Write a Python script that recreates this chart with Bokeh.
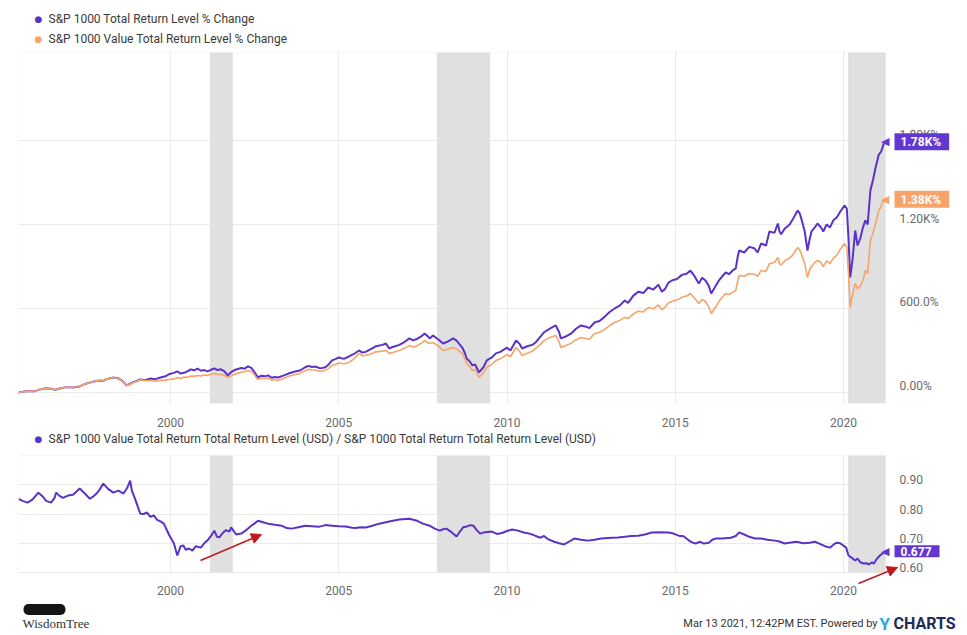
from bokeh.plotting import figure
from bokeh.layouts import column
from bokeh.models import (Range1d, LinearAxis, FixedTicker, BoxAnnotation, Label,
                          Arrow, NormalHead, NumeralTickFormatter, Grid)
from bokeh.embed import file_html
from bokeh.resources import INLINE

# ---------------- data ----------------
years_total = [1995.48, 1995.65, 1995.8, 1995.95, 1996.1, 1996.3, 1996.45, 1996.55, 1996.7, 1996.9,
               1997.1, 1997.3, 1997.45, 1997.6, 1997.75, 1997.9, 1998.0, 1998.1, 1998.3, 1998.45,
               1998.55, 1998.7, 1998.8, 1998.9, 1999.0, 1999.1, 1999.25, 1999.4, 1999.55, 1999.7,
               1999.85, 1999.95, 2000.1, 2000.2, 2000.3, 2000.4, 2000.5, 2000.6, 2000.7, 2000.8,
               2000.9, 2001.0, 2001.1, 2001.2, 2001.3, 2001.4, 2001.5, 2001.6, 2001.7, 2001.8,
               2001.9, 2002.0, 2002.1, 2002.2, 2002.3, 2002.4, 2002.45, 2002.55, 2002.6, 2002.7,
               2002.8, 2002.9, 2003.0, 2003.1, 2003.2, 2003.35, 2003.5, 2003.7, 2003.85, 2004.0,
               2004.1, 2004.2, 2004.3, 2004.45, 2004.6, 2004.7, 2004.8, 2004.9, 2005.0, 2005.15,
               2005.3, 2005.45, 2005.6, 2005.7, 2005.8, 2005.95, 2006.1, 2006.3, 2006.4, 2006.5,
               2006.6, 2006.8, 2006.95, 2007.1, 2007.2, 2007.3, 2007.45, 2007.55, 2007.65, 2007.7,
               2007.8, 2007.95, 2008.1, 2008.25, 2008.4, 2008.5, 2008.67, 2008.75, 2008.8, 2008.9,
               2008.97, 2009.05, 2009.17, 2009.3, 2009.4, 2009.55, 2009.67, 2009.8, 2010.0, 2010.1,
               2010.27, 2010.38, 2010.45, 2010.6, 2010.75, 2010.85, 2011.0, 2011.1, 2011.3, 2011.45,
               2011.55, 2011.6, 2011.75, 2011.9, 2012.05, 2012.2, 2012.35, 2012.45, 2012.6, 2012.75,
               2012.9, 2013.05, 2013.2, 2013.35, 2013.5, 2013.6, 2013.75, 2013.9, 2014.05, 2014.2,
               2014.35, 2014.5, 2014.6, 2014.7, 2014.8, 2014.9, 2015.05, 2015.2, 2015.35, 2015.45,
               2015.55, 2015.7, 2015.8, 2015.9, 2016.0, 2016.07, 2016.2, 2016.3, 2016.4, 2016.5,
               2016.6, 2016.7, 2016.8, 2016.85, 2016.9, 2017.05, 2017.2, 2017.35, 2017.45, 2017.55,
               2017.7, 2017.8, 2017.95, 2018.05, 2018.1, 2018.15, 2018.25, 2018.4, 2018.5, 2018.64,
               2018.7, 2018.75, 2018.85, 2018.93, 2019.0, 2019.05, 2019.15, 2019.23, 2019.33, 2019.4,
               2019.5, 2019.6, 2019.7, 2019.8, 2019.9, 2020.03, 2020.1, 2020.15, 2020.2, 2020.27,
               2020.35, 2020.42, 2020.5, 2020.58, 2020.65, 2020.72, 2020.8, 2020.88, 2020.95, 2021.05,
               2021.12, 2021.2]
sp1000_total_pct = [0, 6, 10, 8, 20, 30, 27, 18, 28, 38,
                    35, 43, 60, 70, 80, 86, 82, 95, 107, 100,
                    85, 50, 62, 75, 82, 93, 88, 100, 95, 107,
                    115, 130, 140, 150, 135, 140, 150, 165, 158, 171,
                    155, 160, 150, 162, 171, 160, 165, 150, 121, 145,
                    160, 168, 175, 170, 186, 175, 160, 125, 107, 120,
                    115, 122, 105, 110, 107, 120, 135, 150, 157, 180,
                    190, 182, 185, 172, 180, 200, 229, 238, 250, 240,
                    257, 275, 300, 285, 290, 310, 330, 340, 350, 314,
                    325, 340, 360, 386, 372, 380, 400, 421, 400, 386,
                    407, 380, 350, 365, 386, 370, 321, 280, 243, 220,
                    193, 200, 143, 180, 229, 250, 279, 290, 320, 300,
                    371, 345, 314, 330, 340, 357, 400, 430, 460, 479,
                    430, 386, 400, 420, 455, 479, 470, 460, 500, 510,
                    540, 575, 600, 620, 657, 640, 690, 720, 710, 750,
                    735, 770, 720, 740, 785, 800, 810, 840, 850, 871,
                    840, 779, 820, 800, 760, 707, 760, 800, 830, 857,
                    845, 870, 886, 960, 1014, 1000, 1040, 1030, 1000, 1064,
                    1050, 1150, 1140, 1207, 1150, 1130, 1170, 1200, 1240, 1300,
                    1280, 1240, 1150, 1014, 1100, 1150, 1180, 1207, 1180, 1150,
                    1200, 1179, 1230, 1250, 1290, 1336, 1314, 1100, 821, 950,
                    1157, 1050, 1100, 1180, 1229, 1200, 1443, 1520, 1600, 1700,
                    1720, 1780]
sp1000_value_pct = [0, 6, 10, 8, 20, 30, 27, 18, 28, 38,
                    35, 43, 60, 70, 80, 86, 82, 95, 107, 98,
                    82, 50, 60, 72, 80, 90, 84, 85, 80, 86,
                    88, 92, 95, 107, 100, 110, 108, 118, 115, 121,
                    118, 125, 122, 130, 136, 128, 130, 122, 107, 120,
                    130, 138, 145, 148, 157, 150, 140, 105, 93, 102,
                    100, 104, 88, 92, 86, 100, 115, 128, 136, 155,
                    165, 160, 160, 150, 158, 172, 193, 200, 210, 205,
                    214, 240, 279, 262, 265, 275, 290, 295, 300, 279,
                    285, 300, 315, 336, 325, 330, 352, 371, 355, 350,
                    357, 335, 300, 310, 321, 310, 279, 240, 207, 185,
                    157, 165, 107, 140, 179, 200, 229, 240, 270, 255,
                    321, 290, 264, 280, 295, 314, 345, 370, 395, 407,
                    360, 321, 335, 350, 375, 393, 385, 380, 421, 430,
                    450, 478, 500, 515, 536, 528, 560, 580, 575, 607,
                    598, 625, 590, 610, 640, 650, 660, 680, 690, 707,
                    680, 636, 665, 650, 610, 564, 610, 650, 680, 707,
                    700, 715, 729, 790, 836, 830, 850, 845, 830, 871,
                    865, 920, 930, 964, 920, 910, 940, 960, 985, 1036,
                    1020, 990, 920, 821, 880, 900, 930, 943, 930, 900,
                    940, 921, 960, 980, 1020, 1064, 1036, 850, 607, 700,
                    779, 740, 760, 800, 871, 850, 1086, 1140, 1200, 1300,
                    1330, 1380]

years_ratio = [1995.48, 1995.6, 1995.75, 1995.9, 1996.07, 1996.2, 1996.3, 1996.45, 1996.55, 1996.6,
               1996.7, 1996.8, 1996.95, 1997.1, 1997.3, 1997.45, 1997.6, 1997.7, 1997.8, 1997.9,
               1998.0, 1998.15, 1998.3, 1998.45, 1998.6, 1998.7, 1998.8, 1998.85, 1998.95, 1999.1,
               1999.2, 1999.3, 1999.4, 1999.5, 1999.6, 1999.7, 1999.8, 1999.95, 2000.1, 2000.2,
               2000.3, 2000.38, 2000.45, 2000.55, 2000.65, 2000.75, 2000.9, 2001.0, 2001.1, 2001.2,
               2001.3, 2001.38, 2001.45, 2001.55, 2001.65, 2001.75, 2001.8, 2001.95, 2002.1, 2002.25,
               2002.4, 2002.5, 2002.6, 2002.75, 2002.9, 2003.1, 2003.3, 2003.45, 2003.6, 2003.8,
               2004.0, 2004.2, 2004.4, 2004.6, 2004.8, 2005.0, 2005.2, 2005.4, 2005.5, 2005.65,
               2005.8, 2006.0, 2006.2, 2006.5, 2006.8, 2007.0, 2007.1, 2007.3, 2007.5, 2007.7,
               2007.85, 2008.0, 2008.1, 2008.2, 2008.35, 2008.5, 2008.6, 2008.7, 2008.8, 2008.9,
               2009.0, 2009.1, 2009.2, 2009.35, 2009.55, 2009.7, 2009.85, 2010.0, 2010.15, 2010.3,
               2010.5, 2010.7, 2010.85, 2011.0, 2011.1, 2011.2, 2011.4, 2011.55, 2011.7, 2011.85,
               2012.0, 2012.2, 2012.4, 2012.6, 2012.8, 2013.1, 2013.3, 2013.5, 2013.7, 2013.9,
               2014.1, 2014.3, 2014.55, 2014.8, 2014.95, 2015.1, 2015.25, 2015.4, 2015.5, 2015.6,
               2015.75, 2015.85, 2016.0, 2016.1, 2016.2, 2016.4, 2016.65, 2016.8, 2016.9, 2017.05,
               2017.2, 2017.37, 2017.55, 2017.75, 2017.96, 2018.1, 2018.25, 2018.4, 2018.6, 2018.8,
               2019.0, 2019.15, 2019.3, 2019.45, 2019.6, 2019.7, 2019.8, 2019.9, 2020.0, 2020.08,
               2020.15, 2020.25, 2020.35, 2020.42, 2020.5, 2020.6, 2020.7, 2020.75, 2020.85, 2020.9,
               2021.0, 2021.1, 2021.2]
value_to_total_ratio = [0.852, 0.845, 0.839, 0.850, 0.873, 0.860, 0.845, 0.839, 0.855, 0.873,
                        0.862, 0.855, 0.863, 0.866, 0.887, 0.870, 0.852, 0.860, 0.870, 0.885,
                        0.904, 0.885, 0.873, 0.880, 0.870, 0.887, 0.914, 0.880, 0.850, 0.801,
                        0.800, 0.805, 0.790, 0.795, 0.780, 0.775, 0.767, 0.730, 0.699, 0.658,
                        0.690, 0.692, 0.678, 0.682, 0.675, 0.690, 0.685, 0.700, 0.710, 0.725,
                        0.743, 0.722, 0.720, 0.735, 0.745, 0.740, 0.754, 0.730, 0.733, 0.745,
                        0.760, 0.768, 0.777, 0.772, 0.767, 0.763, 0.760, 0.752, 0.750, 0.755,
                        0.760, 0.758, 0.756, 0.762, 0.760, 0.758, 0.757, 0.753, 0.752, 0.755,
                        0.754, 0.760, 0.767, 0.774, 0.781, 0.783, 0.784, 0.778, 0.767, 0.760,
                        0.750, 0.743, 0.748, 0.750, 0.738, 0.723, 0.740, 0.755, 0.757, 0.762,
                        0.760, 0.745, 0.733, 0.738, 0.740, 0.732, 0.735, 0.742, 0.747, 0.744,
                        0.737, 0.732, 0.725, 0.719, 0.725, 0.715, 0.705, 0.700, 0.696, 0.706,
                        0.716, 0.712, 0.709, 0.712, 0.716, 0.719, 0.720, 0.722, 0.725, 0.726,
                        0.730, 0.737, 0.738, 0.737, 0.733, 0.726, 0.724, 0.710, 0.703, 0.699,
                        0.705, 0.699, 0.702, 0.712, 0.716, 0.716, 0.719, 0.725, 0.737, 0.730,
                        0.722, 0.716, 0.716, 0.712, 0.709, 0.706, 0.699, 0.702, 0.705, 0.700,
                        0.702, 0.705, 0.698, 0.690, 0.685, 0.695, 0.702, 0.700, 0.692, 0.685,
                        0.658, 0.650, 0.641, 0.648, 0.635, 0.631, 0.632, 0.627, 0.635, 0.630,
                        0.648, 0.660, 0.668]

recession_start = [2001.17, 2007.92, 2020.14]
recession_end = [2001.85, 2009.5, 2021.25]

x_ticks = [2000, 2005, 2010, 2015, 2020]
top_ticks = [0, 600, 1200, 1800]
top_tick_labels = ["0.00%", "600.0%", "1.20K%", "1.80K%"]
bottom_ticks = [0.6, 0.7, 0.8, 0.9]

last_total_label = "1.78K%"
last_value_label = "1.38K%"
last_ratio_label = "0.677"
last_ratio_value = 0.677

legend_top = ["S&P 1000 Total Return Level % Change", "S&P 1000 Value Total Return Level % Change"]
legend_bottom = "S&P 1000 Value Total Return Total Return Level (USD) / S&P 1000 Total Return Total Return Level (USD)"

# ---------------- style ----------------
PURPLE = "#5a32c8"
PURPLE_BOX = "#6338d2"
ORANGE = "#f5a46b"
ORANGE_BOX = "#f6a46c"
BAND = "#e0e0e0"
GRID = "#ebebeb"
AXIS_TXT = "#6a6a6a"
FONT = "Roboto"
RED = "#c0181e"

W = 967
DATA_X = (1995.48, 2021.25)          # data area of the charts
DATA_L, DATA_W = 18, 867             # page px of that area
FRAME_R = 966
XPP = (DATA_X[1] - DATA_X[0]) / DATA_W
XR = (DATA_X[0], DATA_X[0] + (FRAME_R - DATA_L) * XPP)


def px2x(px):
    return DATA_X[0] + (px - DATA_L) * XPP


class Chart:
    def __init__(self, page_top, height, data_top, data_bottom, yr, bottom_border, ticks, shift_px):
        self.page_top = page_top
        self.data_top, self.data_bottom = data_top, data_bottom
        self.yr = yr
        self.u = (yr[1] - yr[0]) / (data_bottom - data_top)
        frame_bottom = page_top + height - bottom_border
        full = (yr[0] - (frame_bottom - data_bottom) * self.u,
                yr[1] + (data_top - page_top) * self.u)
        p = figure(width=W, height=height, output_backend="svg", toolbar_location=None,
                   x_range=Range1d(*XR), y_range=Range1d(*full),
                   min_border_left=DATA_L, min_border_right=W - FRAME_R, min_border_top=0,
                   min_border_bottom=bottom_border, y_axis_location=None)
        p.grid.visible = False
        p.outline_line_color = None
        p.background_fill_color = "white"
        p.border_fill_color = "white"
        p.xaxis.ticker = FixedTicker(ticks=x_ticks)
        p.xaxis.axis_line_color = None
        p.xaxis.major_tick_line_color = None
        p.xaxis.minor_tick_line_color = None
        p.xaxis.major_label_text_font = FONT
        p.xaxis.major_label_text_font_size = "12px"
        p.xaxis.major_label_text_color = AXIS_TXT
        # grids
        p.add_layout(Grid(dimension=0, ticker=FixedTicker(ticks=x_ticks),
                          grid_line_color=GRID, level="underlay"))
        p.add_layout(Grid(dimension=1, ticker=FixedTicker(ticks=ticks),
                          grid_line_color=GRID, level="underlay"))
        # white covers outside the data area
        eps = 1.0 * self.u
        p.add_layout(BoxAnnotation(bottom=yr[1] + eps, fill_color="white", fill_alpha=1.0,
                                   line_color=None, level="underlay"))
        p.add_layout(BoxAnnotation(top=yr[0] - eps, fill_color="white", fill_alpha=1.0,
                                   line_color=None, level="underlay"))
        p.add_layout(BoxAnnotation(left=DATA_X[1], fill_color="white", fill_alpha=1.0,
                                   line_color=None, level="underlay"))
        # recession bands
        for s, e in zip(recession_start, recession_end):
            p.add_layout(BoxAnnotation(left=s, right=e, bottom=yr[0], top=yr[1], fill_color=BAND,
                                       fill_alpha=1.0, line_color=None, level="underlay"))
        # outline of the data area
        p.add_layout(BoxAnnotation(left=DATA_X[0], right=DATA_X[1], bottom=yr[0], top=yr[1],
                                   fill_alpha=0, line_color="#e3e3e3", line_width=1,
                                   level="underlay"))
        # value axis on the right, labels sitting just above their grid lines
        sh = shift_px * self.u
        p.extra_y_ranges = {"lbl": Range1d(full[0] - sh, full[1] - sh)}
        self.ax = LinearAxis(y_range_name="lbl", ticker=FixedTicker(ticks=ticks),
                             axis_line_color=None, major_tick_line_color=None,
                             minor_tick_line_color=None,
                             major_label_standoff=893 - FRAME_R, major_label_text_font=FONT,
                             major_label_text_font_size="12px", major_label_text_color=AXIS_TXT)
        p.add_layout(self.ax, "right")
        self.p = p

    def y(self, page_y):
        return self.yr[1] - (page_y - self.data_top) * self.u

    def text(self, px, py, text, **kw):
        opts = dict(text_font=FONT, text_font_size="12px", text_baseline="middle")
        opts.update(kw)
        self.p.add_layout(Label(x=px2x(px), y=self.y(py), text=text, **opts))

    def legend(self, py, text, col):
        self.text(38, py, "●", text_color=col, text_font="DejaVu Sans", text_font_size="9px",
                  text_align="center")
        self.text(48, py, text, text_color="#3a3a3a")

    def tag(self, yval, text, col):
        self.p.add_layout(Label(x=DATA_X[1], y=yval, x_offset=9, text=text, text_color="white",
                                text_font=FONT, text_font_style="bold", text_font_size="12px",
                                text_baseline="middle", background_fill_color=col,
                                padding=dict(left=6, right=8, top=2, bottom=1)))
        self.p.add_layout(Label(x=DATA_X[1], y=yval, x_offset=4, text="◀", text_color=col,
                                text_font="DejaVu Sans", text_font_size="11px",
                                text_align="right", text_baseline="middle"))


# ---------------- top chart ----------------
c1 = Chart(page_top=0, height=430, data_top=52, data_bottom=403, yr=(-79, 2429),
           bottom_border=27, ticks=top_ticks, shift_px=6)
p1 = c1.p
c1.ax.major_label_overrides = dict(zip(top_ticks, top_tick_labels))
p1.xaxis.major_label_standoff = 8

p1.line(years_total, sp1000_total_pct, line_color=PURPLE, line_width=2)
p1.line(years_total, sp1000_value_pct, line_color=ORANGE, line_width=1.6)

c1.legend(18, legend_top[0], PURPLE)
c1.legend(38, legend_top[1], ORANGE)
c1.tag(sp1000_total_pct[-1] + 12, last_total_label, PURPLE_BOX)
c1.tag(sp1000_value_pct[-1], last_value_label, ORANGE_BOX)

# ---------------- bottom chart ----------------
c2 = Chart(page_top=430, height=205, data_top=455, data_bottom=572, yr=(0.60, 1.0),
           bottom_border=2, ticks=bottom_ticks, shift_px=5)
p2 = c2.p
c2.ax.formatter = NumeralTickFormatter(format="0.00")
p2.xaxis.major_label_standoff = 579 - 633

p2.line(years_ratio, value_to_total_ratio, line_color=PURPLE, line_width=2)

c2.legend(438, legend_bottom, PURPLE)
c2.tag(last_ratio_value - 0.004, last_ratio_label, PURPLE_BOX)

arrows = [((200, 560), (261, 534)), ((858, 583), (897, 567))]
for (sx, sy), (ex, ey) in arrows:
    p2.add_layout(Arrow(x_start=px2x(sx), y_start=c2.y(sy), x_end=px2x(ex), y_end=c2.y(ey),
                        line_color=RED, line_width=1.5,
                        end=NormalHead(size=10, fill_color=RED, line_color=RED)))

# footer
c2.text(877, 623, "Mar 13 2021, 12:42PM EST. Powered by", text_align="right",
        text_font_size="11px", text_color="#333333")
c2.text(879, 623, "Y", text_font_style="bold", text_font_size="17px", text_color="#2fa6e3")
c2.text(893, 623, "CHARTS", text_font_style="bold", text_font_size="16px", text_color="#1c2b57")
c2.p.add_layout(Label(x=px2x(23), y=c2.y(609), text=" ", text_baseline="middle",
                      text_font_size="7px", background_fill_color="#151515",
                      padding=dict(left=20, right=20, top=2, bottom=2), border_radius=5))
c2.text(22, 623, "WisdomTree", text_font="Liberation Serif", text_font_size="13px",
        text_color="#333333")

layout = column(p1, p2, spacing=0)
open("out.html", "w").write(file_html(layout, INLINE))
